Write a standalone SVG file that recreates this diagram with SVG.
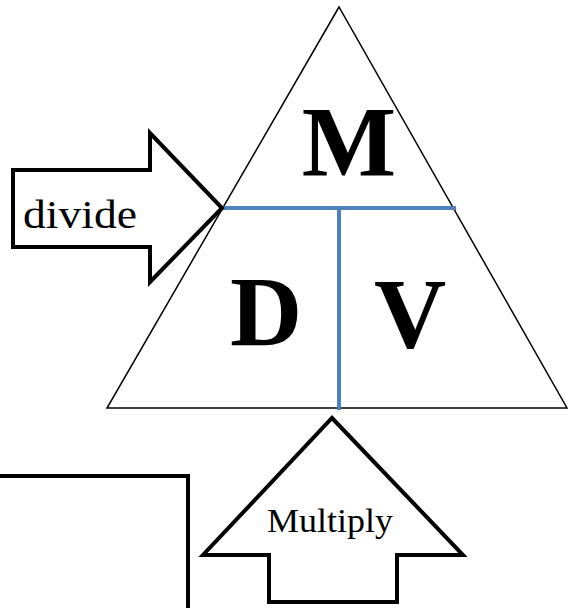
<svg xmlns="http://www.w3.org/2000/svg" width="568" height="608" viewBox="0 0 568 608">
<style>
.arrow{fill:#fff;stroke:#000;stroke-width:4;stroke-linejoin:miter}
.tri{fill:#fff;stroke:#000;stroke-width:1.5}
.div{stroke:#4F81BD;stroke-width:4;fill:none}
.big{font-family:"Liberation Serif","DejaVu Serif",serif;font-weight:bold;font-size:100px;fill:#000;text-anchor:middle}
.lbl{font-family:"Liberation Serif","DejaVu Serif",serif;fill:#000}
</style>
<rect width="568" height="608" fill="#fff"/>
<g id="box">
<path class="arrow" d="M-10 476 H188 V620" fill="none"/>
</g>
<g id="triangle">
<polygon class="tri" points="339,7 107,408 567,408"/>
</g>
<g id="connectors">
<line class="div" x1="222" y1="208" x2="456" y2="208"/>
<line class="div" x1="339" y1="208" x2="339" y2="410"/>
</g>
<g id="divide-arrow">
<polygon class="arrow" points="13,170 150,170 150,133 222,208 150,282 150,247 13,247"/>
<text class="lbl" x="23" y="228" font-size="40" textLength="114" lengthAdjust="spacingAndGlyphs">divide</text>
</g>
<g id="multiply-arrow">
<polygon class="arrow" points="332,418 463,555 397,555 397,602 269,602 269,555 203,555"/>
<text class="lbl" x="267" y="532" font-size="34" textLength="126" lengthAdjust="spacingAndGlyphs">Multiply</text>
</g>
<g id="M"><text class="big" x="349" y="175">M</text></g>
<g id="D"><text class="big" x="266" y="345">D</text></g>
<g id="V"><text class="big" x="410" y="347">V</text></g>
</svg>
